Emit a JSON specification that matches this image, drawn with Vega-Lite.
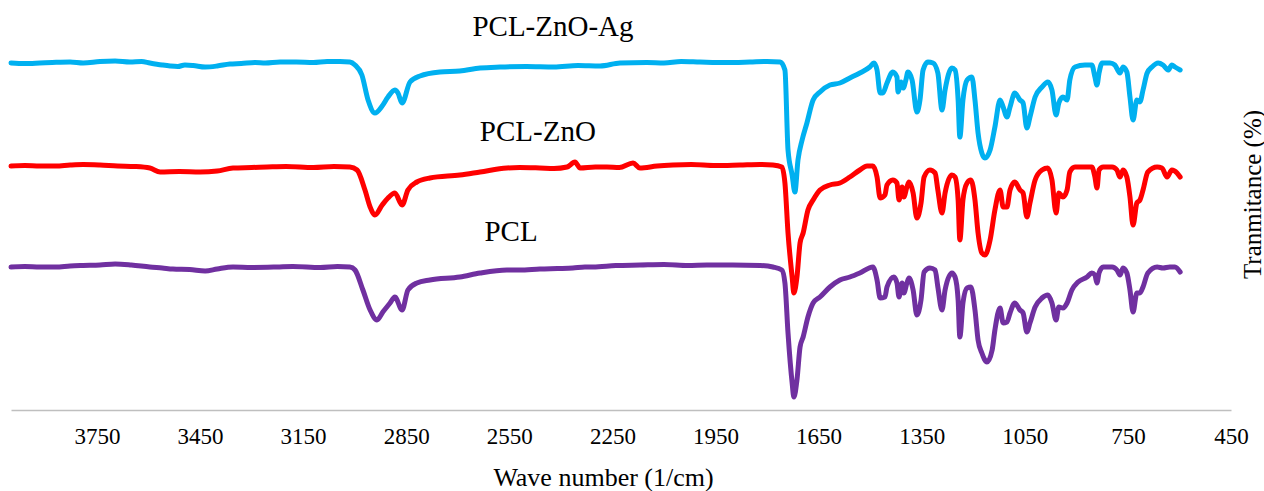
{
"$schema":"https://vega.github.io/schema/vega-lite/v6.json",
"width":1220,"height":410,
"autosize":{"type":"none"},
"padding":{"left":11,"top":0,"right":33,"bottom":81},
"background":"white",
"config":{"view":{"stroke":null},"font":"Liberation Serif"},
"datasets":{
"spectra":[
{"s":"PCL-ZnO-Ag","wn":4000,"t":347},{"s":"PCL-ZnO-Ag","wn":3916,"t":347},{"s":"PCL-ZnO-Ag","wn":3828,"t":348},{"s":"PCL-ZnO-Ag","wn":3741,"t":348.5},{"s":"PCL-ZnO-Ag","wn":3697,"t":349},{"s":"PCL-ZnO-Ag","wn":3654,"t":348},{"s":"PCL-ZnO-Ag","wn":3596,"t":347},{"s":"PCL-ZnO-Ag","wn":3537,"t":344},{"s":"PCL-ZnO-Ag","wn":3494,"t":345},{"s":"PCL-ZnO-Ag","wn":3435,"t":343},{"s":"PCL-ZnO-Ag","wn":3363,"t":346},{"s":"PCL-ZnO-Ag","wn":3217,"t":348},{"s":"PCL-ZnO-Ag","wn":3043,"t":348.5},{"s":"PCL-ZnO-Ag","wn":3014,"t":348},{"s":"PCL-ZnO-Ag","wn":2999,"t":345},{"s":"PCL-ZnO-Ag","wn":2979,"t":335},{"s":"PCL-ZnO-Ag","wn":2961,"t":310},{"s":"PCL-ZnO-Ag","wn":2941,"t":297},{"s":"PCL-ZnO-Ag","wn":2920,"t":304},{"s":"PCL-ZnO-Ag","wn":2903,"t":313},{"s":"PCL-ZnO-Ag","wn":2883,"t":320},{"s":"PCL-ZnO-Ag","wn":2874,"t":317},{"s":"PCL-ZnO-Ag","wn":2862,"t":307},{"s":"PCL-ZnO-Ag","wn":2839,"t":328},{"s":"PCL-ZnO-Ag","wn":2810,"t":334},{"s":"PCL-ZnO-Ag","wn":2752,"t":338},{"s":"PCL-ZnO-Ag","wn":2694,"t":339},{"s":"PCL-ZnO-Ag","wn":2635,"t":342},{"s":"PCL-ZnO-Ag","wn":2577,"t":343},{"s":"PCL-ZnO-Ag","wn":2286,"t":344},{"s":"PCL-ZnO-Ag","wn":2228,"t":347},{"s":"PCL-ZnO-Ag","wn":1995,"t":348},{"s":"PCL-ZnO-Ag","wn":1850,"t":348},{"s":"PCL-ZnO-Ag","wn":1762,"t":348},{"s":"PCL-ZnO-Ag","wn":1748,"t":340},{"s":"PCL-ZnO-Ag","wn":1739,"t":260},{"s":"PCL-ZnO-Ag","wn":1727,"t":235},{"s":"PCL-ZnO-Ag","wn":1719,"t":218},{"s":"PCL-ZnO-Ag","wn":1710,"t":250},{"s":"PCL-ZnO-Ag","wn":1698,"t":270},{"s":"PCL-ZnO-Ag","wn":1684,"t":287},{"s":"PCL-ZnO-Ag","wn":1666,"t":310},{"s":"PCL-ZnO-Ag","wn":1646,"t":318},{"s":"PCL-ZnO-Ag","wn":1617,"t":325},{"s":"PCL-ZnO-Ag","wn":1588,"t":327},{"s":"PCL-ZnO-Ag","wn":1559,"t":332},{"s":"PCL-ZnO-Ag","wn":1530,"t":337},{"s":"PCL-ZnO-Ag","wn":1501,"t":343},{"s":"PCL-ZnO-Ag","wn":1489,"t":347},{"s":"PCL-ZnO-Ag","wn":1480,"t":340},{"s":"PCL-ZnO-Ag","wn":1471,"t":317},{"s":"PCL-ZnO-Ag","wn":1463,"t":317},{"s":"PCL-ZnO-Ag","wn":1451,"t":327},{"s":"PCL-ZnO-Ag","wn":1434,"t":338},{"s":"PCL-ZnO-Ag","wn":1422,"t":333},{"s":"PCL-ZnO-Ag","wn":1419,"t":318},{"s":"PCL-ZnO-Ag","wn":1410,"t":328},{"s":"PCL-ZnO-Ag","wn":1404,"t":322},{"s":"PCL-ZnO-Ag","wn":1396,"t":330},{"s":"PCL-ZnO-Ag","wn":1390,"t":338},{"s":"PCL-ZnO-Ag","wn":1378,"t":330},{"s":"PCL-ZnO-Ag","wn":1364,"t":298},{"s":"PCL-ZnO-Ag","wn":1355,"t":310},{"s":"PCL-ZnO-Ag","wn":1346,"t":340},{"s":"PCL-ZnO-Ag","wn":1332,"t":348},{"s":"PCL-ZnO-Ag","wn":1317,"t":347},{"s":"PCL-ZnO-Ag","wn":1303,"t":337},{"s":"PCL-ZnO-Ag","wn":1291,"t":300},{"s":"PCL-ZnO-Ag","wn":1282,"t":320},{"s":"PCL-ZnO-Ag","wn":1262,"t":342},{"s":"PCL-ZnO-Ag","wn":1253,"t":340},{"s":"PCL-ZnO-Ag","wn":1244,"t":310},{"s":"PCL-ZnO-Ag","wn":1239,"t":273},{"s":"PCL-ZnO-Ag","wn":1230,"t":310},{"s":"PCL-ZnO-Ag","wn":1218,"t":330},{"s":"PCL-ZnO-Ag","wn":1204,"t":333},{"s":"PCL-ZnO-Ag","wn":1195,"t":310},{"s":"PCL-ZnO-Ag","wn":1186,"t":277},{"s":"PCL-ZnO-Ag","wn":1175,"t":257},{"s":"PCL-ZnO-Ag","wn":1166,"t":252},{"s":"PCL-ZnO-Ag","wn":1151,"t":260},{"s":"PCL-ZnO-Ag","wn":1137,"t":283},{"s":"PCL-ZnO-Ag","wn":1122,"t":310},{"s":"PCL-ZnO-Ag","wn":1113,"t":303},{"s":"PCL-ZnO-Ag","wn":1102,"t":293},{"s":"PCL-ZnO-Ag","wn":1093,"t":303},{"s":"PCL-ZnO-Ag","wn":1079,"t":317},{"s":"PCL-ZnO-Ag","wn":1064,"t":310},{"s":"PCL-ZnO-Ag","wn":1055,"t":307},{"s":"PCL-ZnO-Ag","wn":1044,"t":282},{"s":"PCL-ZnO-Ag","wn":1035,"t":293},{"s":"PCL-ZnO-Ag","wn":1020,"t":313},{"s":"PCL-ZnO-Ag","wn":1000,"t":323},{"s":"PCL-ZnO-Ag","wn":983,"t":328},{"s":"PCL-ZnO-Ag","wn":971,"t":320},{"s":"PCL-ZnO-Ag","wn":959,"t":295},{"s":"PCL-ZnO-Ag","wn":951,"t":307},{"s":"PCL-ZnO-Ag","wn":939,"t":313},{"s":"PCL-ZnO-Ag","wn":927,"t":310},{"s":"PCL-ZnO-Ag","wn":919,"t":330},{"s":"PCL-ZnO-Ag","wn":904,"t":343},{"s":"PCL-ZnO-Ag","wn":875,"t":345},{"s":"PCL-ZnO-Ag","wn":855,"t":345},{"s":"PCL-ZnO-Ag","wn":846,"t":333},{"s":"PCL-ZnO-Ag","wn":840,"t":325},{"s":"PCL-ZnO-Ag","wn":834,"t":337},{"s":"PCL-ZnO-Ag","wn":825,"t":347},{"s":"PCL-ZnO-Ag","wn":802,"t":347},{"s":"PCL-ZnO-Ag","wn":788,"t":345},{"s":"PCL-ZnO-Ag","wn":773,"t":337},{"s":"PCL-ZnO-Ag","wn":764,"t":343},{"s":"PCL-ZnO-Ag","wn":753,"t":338},{"s":"PCL-ZnO-Ag","wn":744,"t":313},{"s":"PCL-ZnO-Ag","wn":735,"t":290},{"s":"PCL-ZnO-Ag","wn":724,"t":310},{"s":"PCL-ZnO-Ag","wn":715,"t":308},{"s":"PCL-ZnO-Ag","wn":706,"t":320},{"s":"PCL-ZnO-Ag","wn":694,"t":337},{"s":"PCL-ZnO-Ag","wn":680,"t":343},{"s":"PCL-ZnO-Ag","wn":662,"t":347},{"s":"PCL-ZnO-Ag","wn":648,"t":345},{"s":"PCL-ZnO-Ag","wn":633,"t":340},{"s":"PCL-ZnO-Ag","wn":622,"t":345},{"s":"PCL-ZnO-Ag","wn":613,"t":343},{"s":"PCL-ZnO-Ag","wn":598,"t":340},
{"s":"PCL-ZnO-Ag","wn":3960,"t":346.5},{"s":"PCL-ZnO-Ag","wn":3880,"t":347.5},{"s":"PCL-ZnO-Ag","wn":3790,"t":347},{"s":"PCL-ZnO-Ag","wn":3620,"t":348.5},{"s":"PCL-ZnO-Ag","wn":3560,"t":345},{"s":"PCL-ZnO-Ag","wn":3515,"t":343.5},{"s":"PCL-ZnO-Ag","wn":3470,"t":344.5},{"s":"PCL-ZnO-Ag","wn":3400,"t":344},{"s":"PCL-ZnO-Ag","wn":3330,"t":346.5},{"s":"PCL-ZnO-Ag","wn":3290,"t":347.5},{"s":"PCL-ZnO-Ag","wn":3260,"t":347},{"s":"PCL-ZnO-Ag","wn":3170,"t":348},{"s":"PCL-ZnO-Ag","wn":3120,"t":347.5},{"s":"PCL-ZnO-Ag","wn":3080,"t":348.5},{"s":"PCL-ZnO-Ag","wn":2500,"t":343.5},{"s":"PCL-ZnO-Ag","wn":2420,"t":343},{"s":"PCL-ZnO-Ag","wn":2350,"t":344.5},{"s":"PCL-ZnO-Ag","wn":2150,"t":347.5},{"s":"PCL-ZnO-Ag","wn":2100,"t":347},{"s":"PCL-ZnO-Ag","wn":2050,"t":348.5},{"s":"PCL-ZnO-Ag","wn":1920,"t":347.5},{"s":"PCL-ZnO-Ag","wn":1800,"t":348.5},

{"s":"PCL-ZnO","wn":4000,"t":244},{"s":"PCL-ZnO","wn":3916,"t":244},{"s":"PCL-ZnO","wn":3828,"t":245},{"s":"PCL-ZnO","wn":3741,"t":245},{"s":"PCL-ZnO","wn":3596,"t":242},{"s":"PCL-ZnO","wn":3566,"t":238},{"s":"PCL-ZnO","wn":3450,"t":238},{"s":"PCL-ZnO","wn":3354,"t":242},{"s":"PCL-ZnO","wn":3255,"t":243},{"s":"PCL-ZnO","wn":3014,"t":243},{"s":"PCL-ZnO","wn":2993,"t":240},{"s":"PCL-ZnO","wn":2970,"t":220},{"s":"PCL-ZnO","wn":2955,"t":203},{"s":"PCL-ZnO","wn":2941,"t":195},{"s":"PCL-ZnO","wn":2920,"t":205},{"s":"PCL-ZnO","wn":2903,"t":212},{"s":"PCL-ZnO","wn":2883,"t":217},{"s":"PCL-ZnO","wn":2862,"t":205},{"s":"PCL-ZnO","wn":2845,"t":220},{"s":"PCL-ZnO","wn":2819,"t":228},{"s":"PCL-ZnO","wn":2781,"t":232},{"s":"PCL-ZnO","wn":2694,"t":235},{"s":"PCL-ZnO","wn":2635,"t":238},{"s":"PCL-ZnO","wn":2557,"t":242},{"s":"PCL-ZnO","wn":2461,"t":242},{"s":"PCL-ZnO","wn":2382,"t":243},{"s":"PCL-ZnO","wn":2359,"t":248},{"s":"PCL-ZnO","wn":2344,"t":242},{"s":"PCL-ZnO","wn":2266,"t":243},{"s":"PCL-ZnO","wn":2190,"t":247},{"s":"PCL-ZnO","wn":2170,"t":242},{"s":"PCL-ZnO","wn":2074,"t":245},{"s":"PCL-ZnO","wn":1879,"t":245},{"s":"PCL-ZnO","wn":1783,"t":245},{"s":"PCL-ZnO","wn":1757,"t":243},{"s":"PCL-ZnO","wn":1748,"t":227},{"s":"PCL-ZnO","wn":1739,"t":177},{"s":"PCL-ZnO","wn":1727,"t":133},{"s":"PCL-ZnO","wn":1722,"t":117},{"s":"PCL-ZnO","wn":1713,"t":133},{"s":"PCL-ZnO","wn":1704,"t":167},{"s":"PCL-ZnO","wn":1695,"t":177},{"s":"PCL-ZnO","wn":1681,"t":200},{"s":"PCL-ZnO","wn":1666,"t":210},{"s":"PCL-ZnO","wn":1646,"t":220},{"s":"PCL-ZnO","wn":1617,"t":225},{"s":"PCL-ZnO","wn":1588,"t":227},{"s":"PCL-ZnO","wn":1559,"t":233},{"s":"PCL-ZnO","wn":1530,"t":240},{"s":"PCL-ZnO","wn":1509,"t":244},{"s":"PCL-ZnO","wn":1492,"t":244},{"s":"PCL-ZnO","wn":1480,"t":233},{"s":"PCL-ZnO","wn":1471,"t":212},{"s":"PCL-ZnO","wn":1457,"t":215},{"s":"PCL-ZnO","wn":1451,"t":225},{"s":"PCL-ZnO","wn":1434,"t":230},{"s":"PCL-ZnO","wn":1422,"t":227},{"s":"PCL-ZnO","wn":1416,"t":210},{"s":"PCL-ZnO","wn":1407,"t":223},{"s":"PCL-ZnO","wn":1402,"t":213},{"s":"PCL-ZnO","wn":1393,"t":223},{"s":"PCL-ZnO","wn":1387,"t":228},{"s":"PCL-ZnO","wn":1375,"t":217},{"s":"PCL-ZnO","wn":1364,"t":192},{"s":"PCL-ZnO","wn":1352,"t":207},{"s":"PCL-ZnO","wn":1343,"t":233},{"s":"PCL-ZnO","wn":1326,"t":240},{"s":"PCL-ZnO","wn":1311,"t":237},{"s":"PCL-ZnO","wn":1303,"t":220},{"s":"PCL-ZnO","wn":1291,"t":197},{"s":"PCL-ZnO","wn":1282,"t":217},{"s":"PCL-ZnO","wn":1262,"t":235},{"s":"PCL-ZnO","wn":1253,"t":233},{"s":"PCL-ZnO","wn":1244,"t":210},{"s":"PCL-ZnO","wn":1239,"t":170},{"s":"PCL-ZnO","wn":1230,"t":210},{"s":"PCL-ZnO","wn":1218,"t":227},{"s":"PCL-ZnO","wn":1207,"t":230},{"s":"PCL-ZnO","wn":1195,"t":210},{"s":"PCL-ZnO","wn":1186,"t":177},{"s":"PCL-ZnO","wn":1175,"t":157},{"s":"PCL-ZnO","wn":1166,"t":155},{"s":"PCL-ZnO","wn":1151,"t":170},{"s":"PCL-ZnO","wn":1137,"t":200},{"s":"PCL-ZnO","wn":1122,"t":220},{"s":"PCL-ZnO","wn":1113,"t":203},{"s":"PCL-ZnO","wn":1102,"t":203},{"s":"PCL-ZnO","wn":1093,"t":220},{"s":"PCL-ZnO","wn":1079,"t":228},{"s":"PCL-ZnO","wn":1064,"t":220},{"s":"PCL-ZnO","wn":1055,"t":217},{"s":"PCL-ZnO","wn":1044,"t":193},{"s":"PCL-ZnO","wn":1035,"t":207},{"s":"PCL-ZnO","wn":1020,"t":230},{"s":"PCL-ZnO","wn":1000,"t":240},{"s":"PCL-ZnO","wn":983,"t":242},{"s":"PCL-ZnO","wn":971,"t":230},{"s":"PCL-ZnO","wn":959,"t":197},{"s":"PCL-ZnO","wn":951,"t":217},{"s":"PCL-ZnO","wn":939,"t":213},{"s":"PCL-ZnO","wn":927,"t":220},{"s":"PCL-ZnO","wn":919,"t":238},{"s":"PCL-ZnO","wn":904,"t":243},{"s":"PCL-ZnO","wn":875,"t":243},{"s":"PCL-ZnO","wn":855,"t":243},{"s":"PCL-ZnO","wn":846,"t":233},{"s":"PCL-ZnO","wn":840,"t":222},{"s":"PCL-ZnO","wn":834,"t":240},{"s":"PCL-ZnO","wn":822,"t":243},{"s":"PCL-ZnO","wn":796,"t":243},{"s":"PCL-ZnO","wn":782,"t":240},{"s":"PCL-ZnO","wn":773,"t":233},{"s":"PCL-ZnO","wn":764,"t":240},{"s":"PCL-ZnO","wn":753,"t":233},{"s":"PCL-ZnO","wn":744,"t":213},{"s":"PCL-ZnO","wn":735,"t":185},{"s":"PCL-ZnO","wn":724,"t":207},{"s":"PCL-ZnO","wn":715,"t":210},{"s":"PCL-ZnO","wn":706,"t":220},{"s":"PCL-ZnO","wn":692,"t":238},{"s":"PCL-ZnO","wn":665,"t":243},{"s":"PCL-ZnO","wn":651,"t":242},{"s":"PCL-ZnO","wn":636,"t":233},{"s":"PCL-ZnO","wn":622,"t":240},{"s":"PCL-ZnO","wn":607,"t":237},{"s":"PCL-ZnO","wn":598,"t":233},
{"s":"PCL-ZnO","wn":3960,"t":244.5},{"s":"PCL-ZnO","wn":3870,"t":244},{"s":"PCL-ZnO","wn":3790,"t":245.5},{"s":"PCL-ZnO","wn":3690,"t":244},{"s":"PCL-ZnO","wn":3640,"t":243.5},{"s":"PCL-ZnO","wn":3510,"t":238.5},{"s":"PCL-ZnO","wn":3400,"t":239},{"s":"PCL-ZnO","wn":3300,"t":242.5},{"s":"PCL-ZnO","wn":3200,"t":243.5},{"s":"PCL-ZnO","wn":3120,"t":242.5},{"s":"PCL-ZnO","wn":3060,"t":243.5},{"s":"PCL-ZnO","wn":2520,"t":242.5},{"s":"PCL-ZnO","wn":2420,"t":241.5},{"s":"PCL-ZnO","wn":2300,"t":243},{"s":"PCL-ZnO","wn":2230,"t":242.5},{"s":"PCL-ZnO","wn":2120,"t":244},{"s":"PCL-ZnO","wn":2020,"t":245.5},{"s":"PCL-ZnO","wn":1950,"t":244.5},{"s":"PCL-ZnO","wn":1820,"t":245.5},

{"s":"PCL","wn":4000,"t":143},{"s":"PCL","wn":3916,"t":143},{"s":"PCL","wn":3828,"t":144},{"s":"PCL","wn":3741,"t":145},{"s":"PCL","wn":3697,"t":146},{"s":"PCL","wn":3596,"t":143},{"s":"PCL","wn":3529,"t":141},{"s":"PCL","wn":3435,"t":139},{"s":"PCL","wn":3354,"t":143},{"s":"PCL","wn":3226,"t":143},{"s":"PCL","wn":3014,"t":143},{"s":"PCL","wn":2999,"t":140},{"s":"PCL","wn":2976,"t":120},{"s":"PCL","wn":2955,"t":100},{"s":"PCL","wn":2935,"t":90},{"s":"PCL","wn":2918,"t":98},{"s":"PCL","wn":2897,"t":107},{"s":"PCL","wn":2883,"t":113},{"s":"PCL","wn":2862,"t":100},{"s":"PCL","wn":2845,"t":120},{"s":"PCL","wn":2819,"t":127},{"s":"PCL","wn":2781,"t":130},{"s":"PCL","wn":2694,"t":133},{"s":"PCL","wn":2635,"t":137},{"s":"PCL","wn":2557,"t":140},{"s":"PCL","wn":2461,"t":141},{"s":"PCL","wn":2365,"t":142},{"s":"PCL","wn":2306,"t":143},{"s":"PCL","wn":2170,"t":145},{"s":"PCL","wn":1975,"t":145},{"s":"PCL","wn":1783,"t":143},{"s":"PCL","wn":1757,"t":140},{"s":"PCL","wn":1748,"t":127},{"s":"PCL","wn":1739,"t":77},{"s":"PCL","wn":1727,"t":27},{"s":"PCL","wn":1722,"t":13},{"s":"PCL","wn":1713,"t":30},{"s":"PCL","wn":1704,"t":63},{"s":"PCL","wn":1695,"t":73},{"s":"PCL","wn":1681,"t":93},{"s":"PCL","wn":1666,"t":107},{"s":"PCL","wn":1646,"t":113},{"s":"PCL","wn":1617,"t":123},{"s":"PCL","wn":1588,"t":130},{"s":"PCL","wn":1559,"t":133},{"s":"PCL","wn":1530,"t":137},{"s":"PCL","wn":1492,"t":143},{"s":"PCL","wn":1480,"t":130},{"s":"PCL","wn":1471,"t":112},{"s":"PCL","wn":1457,"t":113},{"s":"PCL","wn":1451,"t":123},{"s":"PCL","wn":1431,"t":133},{"s":"PCL","wn":1422,"t":127},{"s":"PCL","wn":1416,"t":113},{"s":"PCL","wn":1407,"t":127},{"s":"PCL","wn":1402,"t":117},{"s":"PCL","wn":1393,"t":127},{"s":"PCL","wn":1387,"t":132},{"s":"PCL","wn":1375,"t":120},{"s":"PCL","wn":1364,"t":95},{"s":"PCL","wn":1352,"t":110},{"s":"PCL","wn":1343,"t":138},{"s":"PCL","wn":1326,"t":142},{"s":"PCL","wn":1311,"t":140},{"s":"PCL","wn":1303,"t":123},{"s":"PCL","wn":1291,"t":100},{"s":"PCL","wn":1282,"t":120},{"s":"PCL","wn":1262,"t":137},{"s":"PCL","wn":1253,"t":133},{"s":"PCL","wn":1244,"t":110},{"s":"PCL","wn":1239,"t":73},{"s":"PCL","wn":1230,"t":107},{"s":"PCL","wn":1218,"t":122},{"s":"PCL","wn":1207,"t":123},{"s":"PCL","wn":1195,"t":100},{"s":"PCL","wn":1186,"t":70},{"s":"PCL","wn":1175,"t":57},{"s":"PCL","wn":1160,"t":48},{"s":"PCL","wn":1145,"t":60},{"s":"PCL","wn":1137,"t":80},{"s":"PCL","wn":1122,"t":102},{"s":"PCL","wn":1113,"t":87},{"s":"PCL","wn":1102,"t":88},{"s":"PCL","wn":1093,"t":97},{"s":"PCL","wn":1079,"t":107},{"s":"PCL","wn":1064,"t":100},{"s":"PCL","wn":1055,"t":97},{"s":"PCL","wn":1044,"t":78},{"s":"PCL","wn":1035,"t":87},{"s":"PCL","wn":1020,"t":103},{"s":"PCL","wn":1000,"t":112},{"s":"PCL","wn":983,"t":115},{"s":"PCL","wn":971,"t":107},{"s":"PCL","wn":959,"t":90},{"s":"PCL","wn":951,"t":103},{"s":"PCL","wn":939,"t":102},{"s":"PCL","wn":927,"t":107},{"s":"PCL","wn":913,"t":120},{"s":"PCL","wn":895,"t":128},{"s":"PCL","wn":869,"t":133},{"s":"PCL","wn":855,"t":137},{"s":"PCL","wn":846,"t":135},{"s":"PCL","wn":840,"t":127},{"s":"PCL","wn":834,"t":137},{"s":"PCL","wn":822,"t":143},{"s":"PCL","wn":796,"t":143},{"s":"PCL","wn":782,"t":140},{"s":"PCL","wn":773,"t":135},{"s":"PCL","wn":764,"t":142},{"s":"PCL","wn":753,"t":137},{"s":"PCL","wn":744,"t":120},{"s":"PCL","wn":735,"t":98},{"s":"PCL","wn":724,"t":117},{"s":"PCL","wn":715,"t":117},{"s":"PCL","wn":706,"t":123},{"s":"PCL","wn":692,"t":137},{"s":"PCL","wn":665,"t":143},{"s":"PCL","wn":648,"t":142},{"s":"PCL","wn":628,"t":143},{"s":"PCL","wn":613,"t":143},{"s":"PCL","wn":598,"t":138},
{"s":"PCL","wn":3960,"t":143.5},{"s":"PCL","wn":3870,"t":143},{"s":"PCL","wn":3790,"t":144.5},{"s":"PCL","wn":3650,"t":145},{"s":"PCL","wn":3560,"t":142},{"s":"PCL","wn":3480,"t":140.5},{"s":"PCL","wn":3400,"t":141},{"s":"PCL","wn":3300,"t":142.5},{"s":"PCL","wn":3180,"t":143.5},{"s":"PCL","wn":3100,"t":142.5},{"s":"PCL","wn":3050,"t":143.5},{"s":"PCL","wn":2520,"t":140},{"s":"PCL","wn":2410,"t":141.5},{"s":"PCL","wn":2330,"t":143},{"s":"PCL","wn":2240,"t":144.5},{"s":"PCL","wn":2100,"t":145.5},{"s":"PCL","wn":2030,"t":144.5},{"s":"PCL","wn":1900,"t":145},{"s":"PCL","wn":1820,"t":144.5}
],
"labels":[
{"label":"PCL-ZnO-Ag","wn":2423,"t":383},
{"label":"PCL-ZnO","wn":2467,"t":278},
{"label":"PCL","wn":2545,"t":178}
]
},
"layer":[
{
"data":{"name":"spectra"},
"mark":{"type":"line","strokeWidth":5,"interpolate":"monotone","strokeJoin":"round","strokeCap":"round"},
"encoding":{
"x":{"field":"wn","type":"quantitative",
"scale":{"domain":[450,4000],"reverse":true,"nice":false,"zero":false},
"axis":{"values":[450,750,1050,1350,1650,1950,2250,2550,2850,3150,3450,3750],"format":"d","grid":false,"ticks":false,"tickSize":0,"domainColor":"#BFBFBF","domainWidth":1.5,"labelFontSize":23,"labelColor":"#000000","labelPadding":15,"labelFlush":false,"labelFont":"Liberation Serif","title":"Wave number (1/cm)","titleFont":"Liberation Serif","titleFontSize":26,"titleFontWeight":"normal","titleColor":"#000000","titleX":592,"titleY":67,"titleAlign":"center","titleBaseline":"middle"}},
"y":{"field":"t","type":"quantitative",
"scale":{"domain":[0,410],"nice":false,"zero":false},
"axis":{"orient":"right","labels":false,"ticks":false,"domain":false,"grid":false,"title":"Tranmitance (%)","titleFont":"Liberation Serif","titleFontSize":25,"titleFontWeight":"normal","titleColor":"#000000","titleAngle":270,"titleX":21,"titleY":194,"titleAlign":"center","titleBaseline":"middle"}},
"color":{"field":"s","type":"nominal","scale":{"domain":["PCL-ZnO-Ag","PCL-ZnO","PCL"],"range":["#00B0F0","#FF0000","#7030A0"]},"legend":null},
"order":{"field":"wn","type":"quantitative","sort":"descending"}
}
},
{
"data":{"name":"labels"},
"mark":{"type":"text","font":"Liberation Serif","fontSize":29,"color":"#000000","align":"center","baseline":"middle"},
"encoding":{
"x":{"field":"wn","type":"quantitative"},
"y":{"field":"t","type":"quantitative"},
"text":{"field":"label"}
}
}
]
}
